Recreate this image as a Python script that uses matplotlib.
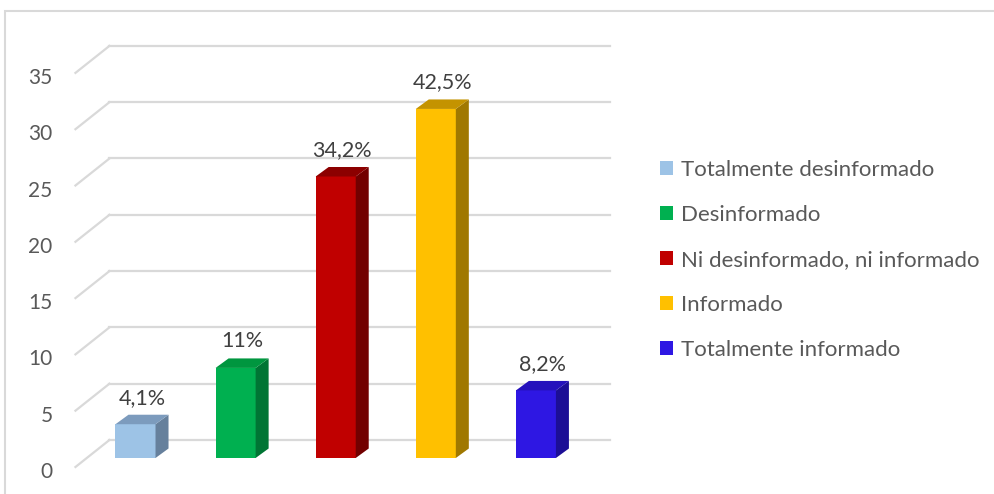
import matplotlib.pyplot as plt
from matplotlib.patches import Polygon, Rectangle, Patch

categories = ["Totalmente desinformado", "Desinformado",
              "Ni desinformado, ni informado", "Informado",
              "Totalmente informado"]
counts = [3, 8, 25, 31, 6]
pct_labels = ["4,1%", "11%", "34,2%", "42,5%", "8,2%"]
yticks = [0, 5, 10, 15, 20, 25, 30, 35]

front_colors = ["#9dc3e6", "#00b050", "#c00000", "#ffc000", "#2e17e3"]
side_colors = ["#66809c", "#007534", "#720000", "#a07800", "#1c0e96"]
top_colors = ["#7c9bbd", "#00963f", "#8c0000", "#c49300", "#2511bc"]

plt.rcParams["font.family"] = ["Lato", "DejaVu Sans"]

W, H = 995, 494
fig = plt.figure(figsize=(W / 100, H / 100), dpi=100)

# axes laid out in pixels: x=-0.5..4.5, y=0..36 (front plane of the bars)
x0, x1 = 85.45, 585.95
yb, ytop = H - 458, H - 458 + 36 * 11.26
ax = fig.add_axes([x0 / W, yb / H, (x1 - x0) / W, (ytop - yb) / H])
ax.set_xlim(-0.5, 4.5)
ax.set_ylim(0, 36)
ax.axis("off")

px_x = 5.0 / (x1 - x0)      # data units per pixel
px_y = 36.0 / (ytop - yb)

# depth offsets (pixels): floor front, bar depth, back wall
fdx, fdy = -10, -9
bdx, bdy = 13, 9.5
wdx, wdy = 24, 18

grid_c = "#d9d9d9"
for v in yticks:
    ax.plot([-0.5 + fdx * px_x, -0.5 + wdx * px_x],
            [v + fdy * px_y, v + wdy * px_y],
            color=grid_c, lw=1.6, clip_on=False, zorder=1)
    ax.plot([-0.5 + wdx * px_x, 4.5 + wdx * px_x],
            [v + wdy * px_y, v + wdy * px_y],
            color=grid_c, lw=1.6, clip_on=False, zorder=1)
    ax.text(-0.5 + fdx * px_x - 23 * px_x, v + fdy * px_y - 5 * px_y, str(v),
            ha="right", va="center", fontsize=15, color="#595959")

w = 0.4
dx, dy = bdx * px_x, bdy * px_y
for i, (v, fc, sc, tc) in enumerate(zip(counts, front_colors, side_colors, top_colors)):
    ax.bar(i, v, width=w, color=fc, zorder=3, clip_on=False)
    r, l = i + w / 2, i - w / 2
    ax.add_patch(Polygon([(r, 0), (r + dx, dy), (r + dx, v + dy), (r, v)],
                         closed=True, facecolor=sc, edgecolor="none", zorder=3))
    ax.add_patch(Polygon([(l, v), (r, v), (r + dx, v + dy), (l + dx, v + dy)],
                         closed=True, facecolor=tc, edgecolor="none", zorder=3))
    ax.annotate(pct_labels[i], (i + dx / 2, v + dy), xytext=(0, 5),
                textcoords="offset points", ha="center", va="bottom",
                fontsize=15.5, color="#404040")

handles = [Patch(facecolor=c, edgecolor="none") for c in front_colors]
fig.legend(handles, categories, loc="upper left",
           bbox_to_anchor=(660 / W, 1 - 160 / H), frameon=False,
           fontsize=16, labelcolor="#595959", handlelength=0.58,
           handleheight=0.58, handletextpad=0.35, labelspacing=1.12,
           borderaxespad=0, borderpad=0)

fig.add_artist(Rectangle((5 / W, -0.1), 1.2, 1 - 11 / H + 0.1,
                         transform=fig.transFigure, facecolor="none",
                         edgecolor="#d9d9d9", lw=1.5))

fig.savefig("out.png", dpi=100, facecolor="white")
